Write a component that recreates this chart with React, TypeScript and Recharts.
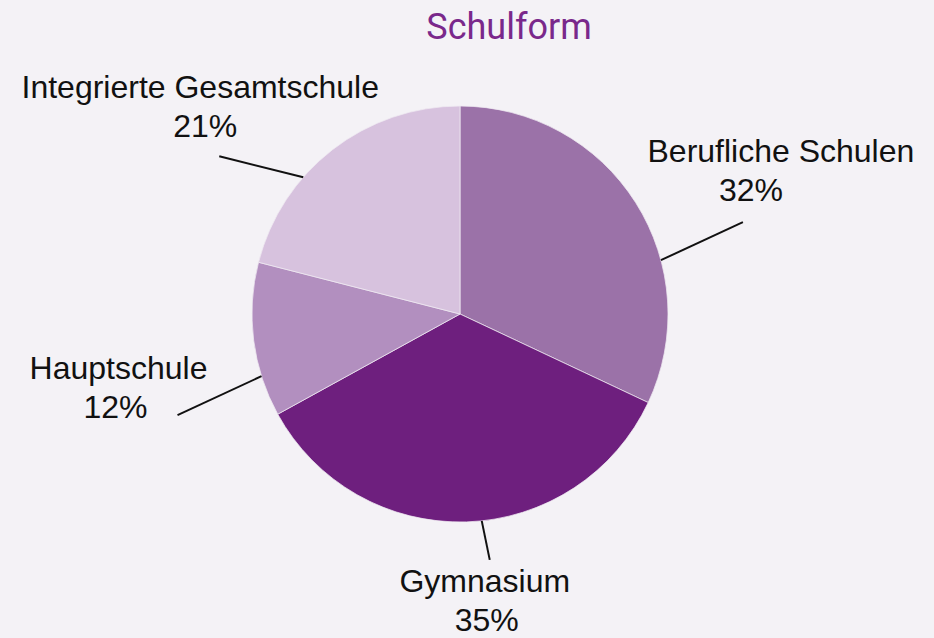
import React from 'react';
import { PieChart, Pie, Cell } from 'recharts';

const categories = ['Berufliche Schulen', 'Gymnasium', 'Hauptschule', 'Integrierte Gesamtschule'];
const shares = [32, 35, 12, 21];

const sliceColors = ['#9b72a8', '#6e1f7e', '#b28fbf', '#d7c2de'];

// where each leader line meets the rim (shift from the slice's mid angle),
// where it ends, and where the label text sits, relative to that rim point
const labelLayout = [
  { shift: -17.4, line: [82, -38], text: [120, -98], pctDx: -30 },
  { shift: 4.2, line: [8, 39], text: [3, 71], pctDx: 2 },
  { shift: 10.2, line: [-84, 39], text: [-143, 3], pctDx: -3 },
  { shift: 11.1, line: [-84, -21], text: [-103, -79], pctDx: 5 },
];

const RAD = Math.PI / 180;

const data = categories.map((name, i) => ({ name, value: shares[i] }));

const labelFont = { fontFamily: '"Liberation Sans", Arial, sans-serif', fontSize: 32 };

const renderLabel = (props: any) => {
  const { cx, cy, midAngle, outerRadius, index, name, value } = props;
  const layout = labelLayout[index];
  const a = (midAngle + layout.shift) * RAD;
  const ex = cx + outerRadius * Math.cos(a);
  const ey = cy - outerRadius * Math.sin(a);
  const tx = ex + layout.text[0];
  const ty = ey + layout.text[1];
  return (
    <g key={`label-${index}`}>
      <line
        x1={ex}
        y1={ey}
        x2={ex + layout.line[0]}
        y2={ey + layout.line[1]}
        stroke="#111"
        strokeWidth={2}
      />
      <text x={tx} y={ty} textAnchor="middle" fill="#111" style={labelFont}>
        {name}
      </text>
      <text x={tx + layout.pctDx} y={ty + 39} textAnchor="middle" fill="#111" style={labelFont}>
        {`${value}%`}
      </text>
    </g>
  );
};

export default function App() {
  return (
    <div
      style={{
        position: 'absolute',
        left: 0,
        top: 0,
        width: 934,
        height: 638,
        background: '#f4f2f6',
        overflow: 'hidden',
      }}
    >
      <div
        style={{
          position: 'absolute',
          top: 6,
          left: 0,
          width: 1018,
          textAlign: 'center',
          fontFamily: 'Roboto, sans-serif',
          fontSize: 36,
          color: '#7a288b',
          lineHeight: 'normal',
        }}
      >
        Schulform
      </div>
      <PieChart width={934} height={638} margin={{ top: 0, right: 0, bottom: 0, left: 0 }}>
        <Pie
          data={data}
          dataKey="value"
          nameKey="name"
          cx={460}
          cy={314}
          outerRadius={208}
          startAngle={90}
          endAngle={-270}
          stroke="#efe9f1"
          strokeWidth={0.75}
          label={renderLabel}
          labelLine={false}
          isAnimationActive={false}
        >
          {data.map((entry, i) => (
            <Cell key={entry.name} fill={sliceColors[i]} />
          ))}
        </Pie>
      </PieChart>
    </div>
  );
}
